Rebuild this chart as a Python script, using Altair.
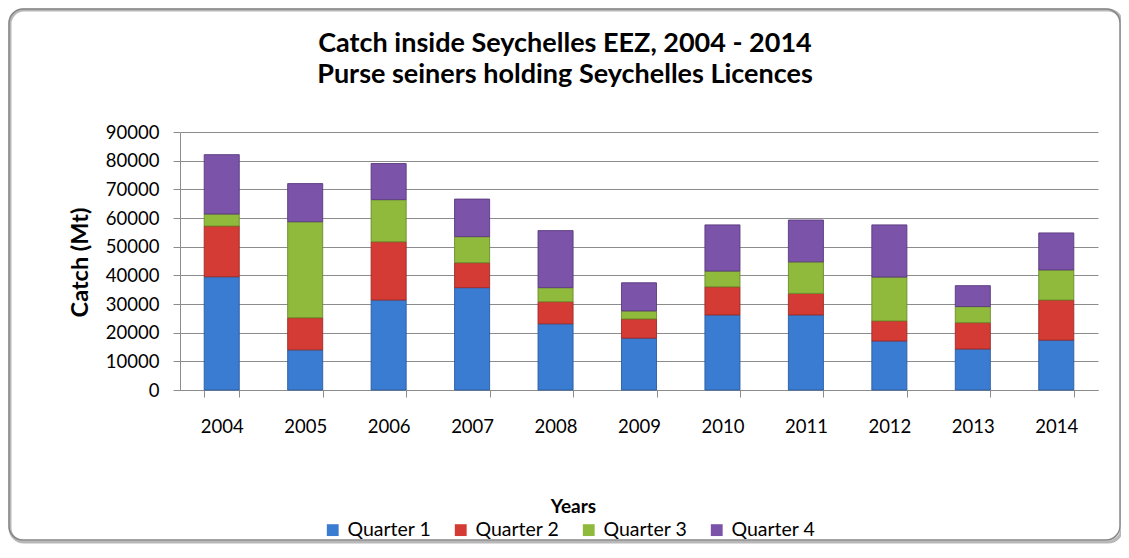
import altair as alt
import pandas as pd

years = ["2004", "2005", "2006", "2007", "2008", "2009", "2010", "2011", "2012", "2013", "2014"]
quarters = ["Quarter 1", "Quarter 2", "Quarter 3", "Quarter 4"]
q1 = [39500, 14000, 31400, 35700, 23100, 18100, 26200, 26200, 17100, 14300, 17400]
q2 = [17700, 11200, 20300, 8700, 7700, 6700, 9800, 7500, 7000, 9200, 14000]
q3 = [4200, 33500, 14700, 9100, 4900, 2800, 5500, 11000, 15300, 5600, 10500]
q4 = [20700, 13300, 12600, 13100, 19900, 9800, 16100, 14600, 18200, 7300, 12900]
y_ticks = [0, 10000, 20000, 30000, 40000, 50000, 60000, 70000, 80000, 90000]
title_line1 = "Catch inside Seychelles EEZ, 2004 - 2014"
title_line2 = "Purse seiners holding Seychelles Licences"
colors = ["#3B7CD3", "#D43B34", "#8FBA3C", "#7B53A8"]
strokes = ["#2B5C9E", "#9E2B26", "#6A8C2A", "#5A3A80"]

rows = []
for qi, (q, vals) in enumerate(zip(quarters, [q1, q2, q3, q4])):
    for y, v in zip(years, vals):
        rows.append({"Year": y, "Quarter": q, "Catch": v, "order": qi})
df = pd.DataFrame(rows)

FONT = "Lato"
W, H = 918, 258

bars = alt.Chart(df).mark_bar(strokeWidth=1, strokeOpacity=0.9).encode(
    x=alt.X("Year:N", sort=years,
            scale=alt.Scale(paddingInner=0.58, paddingOuter=0.29),
            axis=alt.Axis(title="Years", labelAngle=0, tickBand="extent",
                          titleX=393, titleY=116, titleBaseline="middle",
                          titleFontSize=19)),
    y=alt.Y("Catch:Q", stack="zero",
            scale=alt.Scale(domain=[0, 90000], nice=False),
            axis=alt.Axis(title="Catch (Mt)", values=y_ticks, format="d",
                          titleX=-100, titleY=130, titleBaseline="middle",
                          titleAlign="center", titleFontSize=23.5)),
    color=alt.Color("Quarter:N", sort=quarters,
                    scale=alt.Scale(domain=quarters, range=colors),
                    legend=alt.Legend(title=None, orient="none", direction="horizontal",
                                      legendX=143, legendY=388, columns=4,
                                      symbolType="square", symbolSize=140,
                                      symbolStrokeWidth=0, labelFontSize=19.5,
                                      labelFont=FONT, labelColor="#000000",
                                      columnPadding=19, labelOffset=5, padding=0)),
    stroke=alt.Stroke("Quarter:N", sort=quarters,
                      scale=alt.Scale(domain=quarters, range=strokes), legend=None),
    order=alt.Order("order:Q", sort="ascending"),
)

frame_df = pd.DataFrame({"k": [0]})
shadow = alt.Chart(frame_df).mark_rect(
    fill=None, stroke="#b8b8b8", strokeWidth=3, cornerRadius=14
).encode(x=alt.value(-170), x2=alt.value(942), y=alt.value(-122), y2=alt.value(410))
frame = alt.Chart(frame_df).mark_rect(
    fill=None, stroke="#868686", strokeWidth=1.5, cornerRadius=14
).encode(x=alt.value(-171), x2=alt.value(940), y=alt.value(-123), y2=alt.value(408))

def title_text(line, ypos):
    return alt.Chart(pd.DataFrame({"line": [line]})).mark_text(
        font=FONT, fontSize=27, fontWeight="bold", color="#000000",
        align="center", baseline="alphabetic"
    ).encode(text="line:N", x=alt.value(385), y=alt.value(ypos))

chart = alt.layer(shadow, frame, bars,
                  title_text(title_line1, -80), title_text(title_line2, -49)).properties(
    width=W, height=H,
    autosize=alt.AutoSizeParams(type="none"),
    padding={"left": 172, "top": 124, "right": 23, "bottom": 158},
).configure_view(stroke=None).configure_axis(
    labelFont=FONT, labelFontSize=18.5, labelColor="#000000",
    titleFont=FONT, titleFontWeight="bold", titleColor="#000000",
    gridColor="#8c8c8c", gridWidth=1, domainColor="#8c8c8c", tickColor="#8c8c8c",
    tickSize=7,
).configure_axisY(
    grid=True, labelPadding=14, domain=True,
).configure_axisX(
    grid=False, labelPadding=20,
)

chart.save("out.html", embed_options={"renderer": "svg", "actions": False})
